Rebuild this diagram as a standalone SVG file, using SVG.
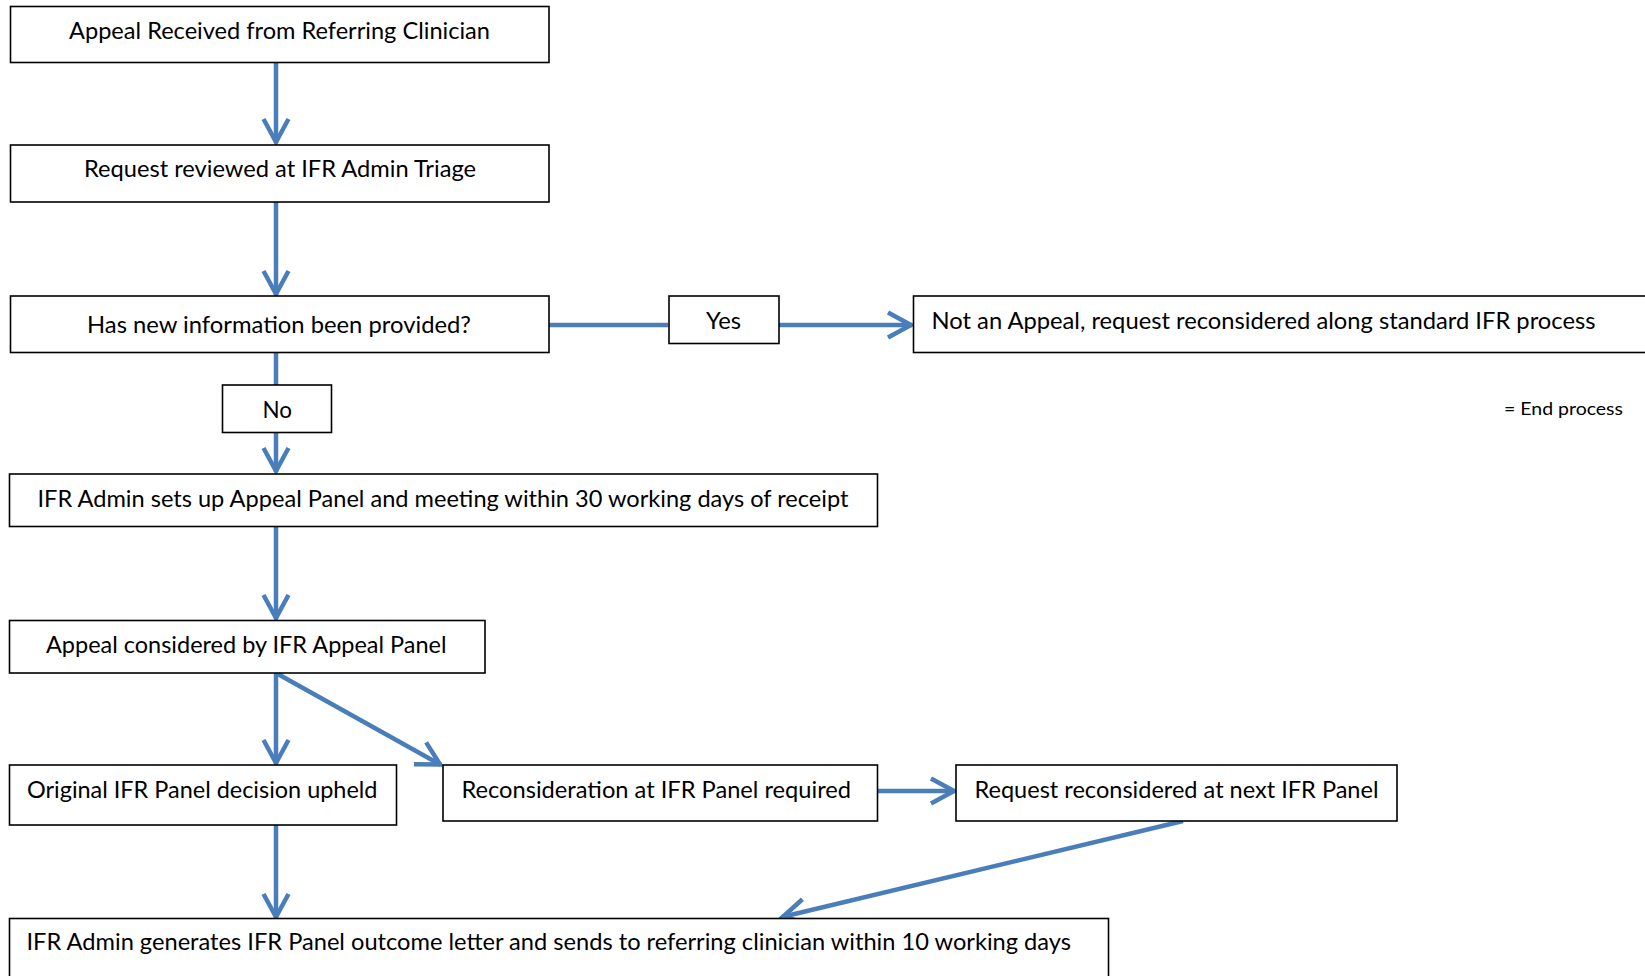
<svg xmlns="http://www.w3.org/2000/svg" width="1645" height="976" viewBox="0 0 1645 976">
<style>
.box{fill:#fff;stroke:#000;stroke-width:1.6}
.t{font-family:Lato,"Open Sans","Liberation Sans",sans-serif;font-size:23px;fill:#000}
.s{font-family:Lato,"Open Sans","Liberation Sans",sans-serif;font-size:18px;fill:#000}
.c{fill:none;stroke:#4a7ebb;stroke-width:4.5}
</style>
<defs>
<marker id="ah" markerUnits="userSpaceOnUse" markerWidth="40" markerHeight="40" viewBox="-30 -20 40 40" refX="1" refY="0" orient="auto">
<path d="M-23,-12.5 L0,0 L-23,12.5" fill="none" stroke="#4a7ebb" stroke-width="4.5"/>
</marker>
</defs>
<rect x="0" y="0" width="1645" height="976" fill="#fff"/>
<g id="connectors">
<line class="c" x1="276" y1="62" x2="276" y2="143" marker-end="url(#ah)"/>
<line class="c" x1="276" y1="202" x2="276" y2="295" marker-end="url(#ah)"/>
<line class="c" x1="276" y1="353" x2="276" y2="385"/>
<line class="c" x1="276" y1="432" x2="276" y2="472" marker-end="url(#ah)"/>
<line class="c" x1="549" y1="325" x2="668" y2="325"/>
<line class="c" x1="779" y1="325" x2="912" y2="325" marker-end="url(#ah)"/>
<line class="c" x1="276" y1="526" x2="276" y2="619" marker-end="url(#ah)"/>
<line class="c" x1="276" y1="673" x2="276" y2="764" marker-end="url(#ah)"/>
<line class="c" x1="276" y1="673" x2="441" y2="765" marker-end="url(#ah)"/>
<line class="c" x1="877" y1="791" x2="955" y2="791" marker-end="url(#ah)"/>
<line class="c" x1="1183" y1="821" x2="782" y2="917" marker-end="url(#ah)"/>
<line class="c" x1="276" y1="825" x2="276" y2="918" marker-end="url(#ah)"/>
</g>
<g id="n1"><rect class="box" x="10.5" y="6.5" width="538.5" height="56"/><text class="t" x="69" y="39" textLength="421" lengthAdjust="spacingAndGlyphs">Appeal Received from Referring Clinician</text></g>
<g id="n2"><rect class="box" x="10.5" y="145" width="538.5" height="57"/><text class="t" x="84" y="177" textLength="392" lengthAdjust="spacingAndGlyphs">Request reviewed at IFR Admin Triage</text></g>
<g id="n3"><rect class="box" x="10.5" y="296" width="538.5" height="56.5"/><text class="t" x="87" y="333" textLength="384" lengthAdjust="spacingAndGlyphs">Has new information been provided?</text></g>
<g id="yes"><rect class="box" x="669" y="296" width="110" height="47.5"/><text class="t" x="706" y="329" textLength="35" lengthAdjust="spacingAndGlyphs">Yes</text></g>
<g id="n4"><rect class="box" x="913.5" y="296" width="740" height="56.5"/><text class="t" x="931.5" y="329" textLength="664" lengthAdjust="spacingAndGlyphs">Not an Appeal, request reconsidered along standard IFR process</text></g>
<g id="legend"><text class="s" x="1504" y="415" textLength="119" lengthAdjust="spacingAndGlyphs">= End process</text></g>
<g id="no"><rect class="box" x="222.5" y="385" width="109" height="47.5"/><text class="t" x="262.5" y="418" textLength="29.5" lengthAdjust="spacingAndGlyphs">No</text></g>
<g id="n5"><rect class="box" x="9.5" y="474" width="868" height="52.5"/><text class="t" x="37.5" y="507" textLength="811" lengthAdjust="spacingAndGlyphs">IFR Admin sets up Appeal Panel and meeting within 30 working days of receipt</text></g>
<g id="n6"><rect class="box" x="9.5" y="620.5" width="475.5" height="52.5"/><text class="t" x="46" y="653" textLength="400.5" lengthAdjust="spacingAndGlyphs">Appeal considered by IFR Appeal Panel</text></g>
<g id="n7"><rect class="box" x="9.5" y="765" width="387" height="60"/><text class="t" x="27" y="798" textLength="350.5" lengthAdjust="spacingAndGlyphs">Original IFR Panel decision upheld</text></g>
<g id="n8"><rect class="box" x="443" y="765" width="434.5" height="56"/><text class="t" x="461.5" y="798" textLength="389.5" lengthAdjust="spacingAndGlyphs">Reconsideration at IFR Panel required</text></g>
<g id="n9"><rect class="box" x="956" y="765" width="441" height="56"/><text class="t" x="974.5" y="798" textLength="404" lengthAdjust="spacingAndGlyphs">Request reconsidered at next IFR Panel</text></g>
<g id="n10"><rect class="box" x="9.5" y="918.5" width="1099" height="80"/><text class="t" x="26.5" y="950" textLength="1044.5" lengthAdjust="spacingAndGlyphs">IFR Admin generates IFR Panel outcome letter and sends to referring clinician within 10 working days</text></g>
</svg>
